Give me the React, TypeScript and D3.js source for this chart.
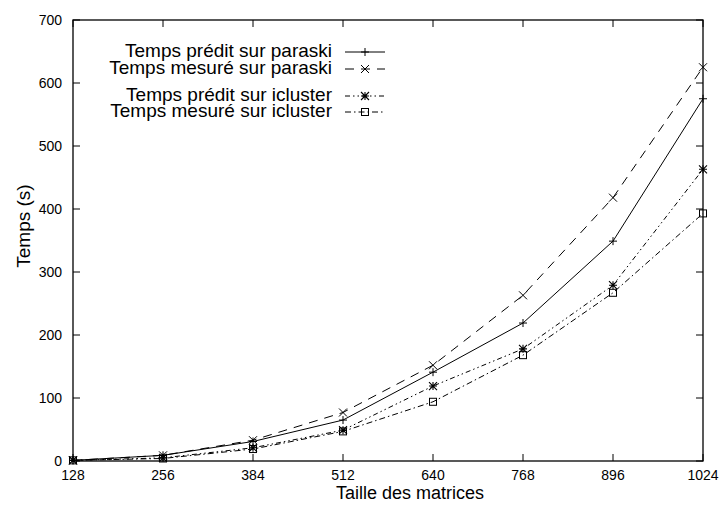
import * as d3 from "d3";
import React from "react";

// matrix sizes (x axis)
const sizes = [128, 256, 384, 512, 640, 768, 896, 1024];

// times in seconds
const predParaski = [1, 9, 31, 65, 141, 219, 349, 575];
const measParaski = [1, 9, 33, 77, 152, 263, 418, 625];
const predIcluster = [1, 5, 21, 49, 119, 178, 279, 463];
const measIcluster = [1, 4, 19, 47, 94, 168, 267, 393];

const yTicks = [0, 100, 200, 300, 400, 500, 600, 700];

const legendLabels = [
    "Temps prédit sur paraski",
    "Temps mesuré sur paraski",
    "Temps prédit sur icluster",
    "Temps mesuré sur icluster",
];

const W = 719;
const H = 509;
const left = 73, right = 703, top = 20, bottom = 461;

type Mark = "plus" | "cross" | "star" | "square";

const series: { values: number[]; dash: string; mark: Mark }[] = [
    { values: predParaski, dash: "", mark: "plus" },
    { values: measParaski, dash: "9,7", mark: "cross" },
    { values: predIcluster, dash: "5,3,1.5,3,1.5,3", mark: "star" },
    { values: measIcluster, dash: "6,3,1.5,3", mark: "square" },
];

const legendY = [52, 69, 96, 112];

function Marker({ x, y, kind }: { x: number; y: number; kind: Mark }) {
    const s = 4;
    const plus = `M${x - s},${y}H${x + s}M${x},${y - s}V${y + s}`;
    const cross = `M${x - s},${y - s}L${x + s},${y + s}M${x - s},${y + s}L${x + s},${y - s}`;
    if (kind === "plus") return <path d={plus} stroke="#000" strokeWidth={1} fill="none" />;
    if (kind === "cross") return <path d={cross} stroke="#000" strokeWidth={1} fill="none" />;
    if (kind === "star") return <path d={plus + cross} stroke="#000" strokeWidth={1.1} fill="none" />;
    return <rect x={x - 3.5} y={y - 3.5} width={7} height={7} stroke="#000" strokeWidth={1} fill="none" />;
}

export default function App() {
    const x = d3.scaleLinear().domain([128, 1024]).range([left, right]);
    const y = d3.scaleLinear().domain([0, 700]).range([bottom, top]);

    const line = d3.line<number>()
        .x((_, i) => x(sizes[i]))
        .y(d => y(d));

    const tick = 7;
    const font = "'Liberation Sans', Arial, sans-serif";

    return (
        <svg width={W} height={H} style={{ position: "absolute", left: 0, top: 0, background: "#fff" }}
            fontFamily={font}>
            <rect x={0} y={0} width={W} height={H} fill="#fff" />

            {/* ticks */}
            {yTicks.map(t => (
                <g key={"y" + t}>
                    <line x1={left} x2={left + tick} y1={y(t)} y2={y(t)} stroke="#000" />
                    <line x1={right} x2={right - tick} y1={y(t)} y2={y(t)} stroke="#000" />
                    <text x={left - 11} y={y(t) + 5} textAnchor="end" fontSize={14}>{t}</text>
                </g>
            ))}
            {sizes.map(s => (
                <g key={"x" + s}>
                    <line x1={x(s)} x2={x(s)} y1={bottom} y2={bottom - tick} stroke="#000" />
                    <line x1={x(s)} x2={x(s)} y1={top} y2={top + tick} stroke="#000" />
                    <text x={x(s)} y={bottom + 19} textAnchor="middle" fontSize={14}>{s}</text>
                </g>
            ))}

            {/* frame */}
            <rect x={left} y={top} width={right - left} height={bottom - top} fill="none" stroke="#000" strokeWidth={1.3} />

            {/* series */}
            {series.map((s, i) => (
                <g key={"s" + i}>
                    <path d={line(s.values) ?? ""} fill="none" stroke="#000" strokeWidth={1}
                        strokeDasharray={s.dash || undefined} />
                    {s.values.map((v, j) => (
                        <Marker key={j} x={x(sizes[j])} y={y(v)} kind={s.mark} />
                    ))}
                </g>
            ))}

            {/* legend */}
            {legendLabels.map((l, i) => (
                <g key={"l" + i}>
                    <text x={332} y={legendY[i] + 5} textAnchor="end" fontSize={19}>{l}</text>
                    <line x1={345} x2={385} y1={legendY[i]} y2={legendY[i]} stroke="#000" strokeWidth={1}
                        strokeDasharray={series[i].dash || undefined} />
                    <Marker x={365} y={legendY[i]} kind={series[i].mark} />
                </g>
            ))}

            {/* axis titles */}
            <text x={410} y={499} textAnchor="middle" fontSize={18}>Taille des matrices</text>
            <text transform={`translate(30,226) rotate(-90)`} textAnchor="middle" fontSize={19}>Temps (s)</text>
        </svg>
    );
}
